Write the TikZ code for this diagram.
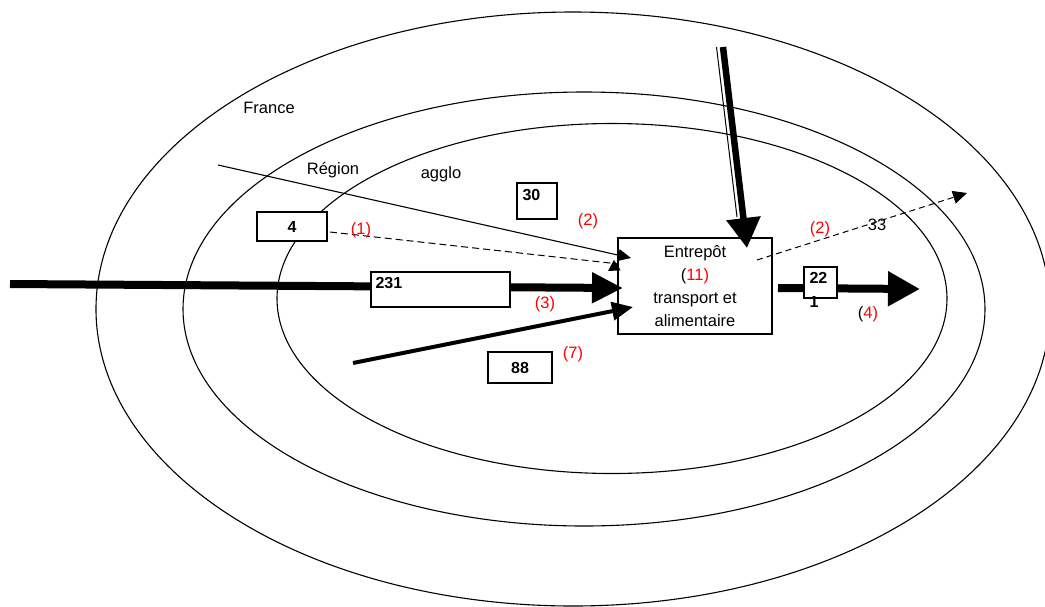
\documentclass[tikz,border=0pt]{standalone}
\usepackage{fontspec}
\setmainfont{Liberation Sans}
\usetikzlibrary{arrows.meta}
\begin{document}
\begin{tikzpicture}[x=1pt,y=-1pt,
  lbl/.style={font=\fontsize{16.5}{19}\selectfont, inner sep=0pt, anchor=base},
  redlbl/.style={lbl, text=red},
  ring/.style={line width=1.1pt},
  numbox/.style={draw, fill=white, line width=1.3pt, inner sep=0pt,
    font=\bfseries\fontsize{16}{18}\selectfont},
  boxtext/.style={anchor=north west, inner sep=0pt, align=left,
    font=\bfseries\fontsize{16}{24}\selectfont},
  thinarrow/.style={line width=1.1pt, -{Triangle[length=13pt,width=12pt]}},
  dasharrow/.style={line width=1pt, dash pattern=on 6pt off 4pt,
    -{Triangle[length=13pt,width=12pt]}},
]
\useasboundingbox (0,0) rectangle (1045,606);
\clip (0,0) rectangle (1045,606);

% rings
\draw[ring] (573,309) ellipse [x radius=477pt, y radius=297pt];
\draw[ring] (584,309) ellipse [x radius=401pt, y radius=217pt];
\draw[ring] (612,298.5) ellipse [x radius=335pt, y radius=175pt];

% ring labels
\node[lbl] (lfrance) at (269,113) {France};
\node[lbl] (lregion) at (333,174) {Région};
\node[lbl] (lagglo) at (441,178) {agglo};

% warehouse box (drawn before the arrows, whose tips enter it)
\node[draw, fill=white, line width=1.3pt, minimum width=154pt, minimum height=96pt,
  inner sep=0pt, align=center, font=\fontsize{16.5}{23}\selectfont]
  (entrepot) at (695,286)
  {Entrepôt\\(\textcolor{red}{11)}\\transport et\\alimentaire};

% free ends / tips
\coordinate (sThin) at (218,165);
\coordinate (tThin) at (631,258);
\coordinate (sDash) at (330,232);
\coordinate (kDash) at (619,264);
\coordinate (tDash) at (608,271);
\coordinate (sBig) at (10,284);
\coordinate (tBig) at (623,288);
\coordinate (sLow) at (353,363);
\coordinate (tLow) at (633,307);
\coordinate (sVert) at (723,47);
\coordinate (tVert) at (747,248);
\coordinate (sVthin) at (716.5,47);
\coordinate (eVthin) at (737,217);
\coordinate (sOut) at (757,260);
\coordinate (tOut) at (967,193);
\coordinate (sRight) at (778,288);
\coordinate (tRight) at (920,289);

% connectors
\draw[thinarrow] (sThin) -- (tThin);
\draw[line width=1pt, dash pattern=on 7pt off 4pt] (sDash) -- (kDash);
\draw[line width=1pt, -{Triangle[length=11pt,width=12pt]}] (kDash) -- (tDash);
\draw[line width=8pt, -{Triangle[length=31pt,width=29pt]}] (sBig) -- (tBig);
\draw[line width=4pt, -{Triangle[length=21pt,width=18pt]}] (sLow) -- (tLow);
\draw[line width=6.5pt, -{Triangle[length=30pt,width=33pt]}] (sVert) -- (tVert);
\draw[line width=1pt] (sVthin) -- (eVthin);
\draw[dasharrow, -{Triangle[length=14pt,width=13pt]}] (sOut) -- (tOut);
\draw[line width=8pt, -{Triangle[length=32pt,width=33pt]}] (sRight) -- (tRight);

% number boxes
\node[numbox, minimum width=70pt, minimum height=29pt] (b4) at (292,226.5) {4};
\node[numbox, minimum width=40pt, minimum height=36pt,
  label={[boxtext, xshift=6pt, yshift=-7pt]north west:30}] (b30) at (537,201) {};
\node[numbox, minimum width=139pt, minimum height=35pt,
  label={[boxtext, xshift=5pt, yshift=-6pt]north west:231}] (b231) at (440.5,289.5) {};
\node[numbox, minimum width=64pt, minimum height=31pt] (b88) at (520,367.5) {88};
\node[numbox, minimum width=33pt, minimum height=31pt,
  label={[boxtext, xshift=6pt, yshift=-6pt]north west:22\\1}] (b22) at (820.5,282.5) {};

% flow labels
\node[redlbl] (l1) at (361,234) {(1)};
\node[redlbl] (l2a) at (588,225) {(2)};
\node[redlbl] (l3) at (545,308) {(3)};
\node[redlbl] (l7) at (573,358) {(7)};
\node[redlbl] (l2b) at (820,233) {(2)};
\node[lbl] (l33) at (877,230) {33};
\node[lbl] (l4) at (868,318) {(\textcolor{red}{4)}};
\end{tikzpicture}
\end{document}
